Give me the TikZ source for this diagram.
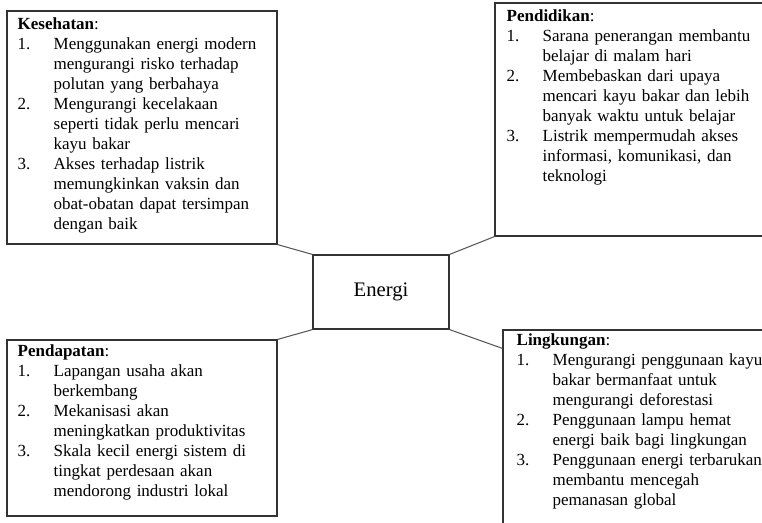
\documentclass[tikz,border=0pt]{standalone}
\usepackage{fontspec}
\setmainfont{Liberation Serif}
\usetikzlibrary{positioning}

% numbered item with hanging indent, lines broken by \newline
\newcommand{\butir}[2]{\par\hangindent=27pt\hangafter=1\noindent\makebox[27pt][l]{#1}#2\par}

\tikzset{
	box/.style={draw=black!80, line width=0.9pt, rectangle, inner sep=0pt},
	hub/.style={box, minimum width=102pt, minimum height=55.5pt, font=\fontsize{15.5pt}{18pt}\selectfont},
	note/.style={inner sep=0pt, text width=200pt, align=left, font=\fontsize{12.75pt}{15pt}\selectfont},
	link/.style={draw=black!65, line width=0.8pt},
}

\begin{document}
\begin{tikzpicture}[x=0.75pt, y=-0.75pt]
	\useasboundingbox (0,0) rectangle (762,522);
	\clip (0,0) rectangle (762,522);
	
	\node (energi) [hub] at (381,292) {Energi};
	
	\node (kes) [box, minimum width=202.5pt, minimum height=174.75pt] at (142,127.5) {};
	\node (pend) [box, minimum width=228.75pt, minimum height=174.75pt] at (647.5,119.5) {};
	\node (pdp) [box, minimum width=202.5pt, minimum height=132pt] at (142,428) {};
	\node (lingk) [box, minimum width=222.75pt, minimum height=172.5pt] at (651.5,445) {};
	
	\node (kestxt) [note, below right=5pt and 8.25pt of kes.north west] {%
		\noindent\textbf{Kesehatan}:
		\butir{1.}{Menggunakan energi modern\newline mengurangi risko terhadap\newline polutan yang berbahaya}
		\butir{2.}{Mengurangi kecelakaan\newline seperti tidak perlu mencari\newline kayu bakar}
		\butir{3.}{Akses terhadap listrik\newline memungkinkan vaksin dan\newline obat-obatan dapat tersimpan\newline dengan baik}};
	
	\node (pendtxt) [note, below right=5pt and 9pt of pend.north west] {%
		\noindent\textbf{Pendidikan}:
		\butir{1.}{Sarana penerangan membantu\newline belajar di malam hari}
		\butir{2.}{Membebaskan dari upaya\newline mencari kayu bakar dan lebih\newline banyak waktu untuk belajar}
		\butir{3.}{Listrik mempermudah akses\newline informasi, komunikasi, dan\newline teknologi}};
	
	\node (pdptxt) [note, below right=4pt and 8.25pt of pdp.north west] {%
		\noindent\textbf{Pendapatan}:
		\butir{1.}{Lapangan usaha akan\newline berkembang}
		\butir{2.}{Mekanisasi akan\newline meningkatkan produktivitas}
		\butir{3.}{Skala kecil energi sistem di\newline tingkat perdesaan akan\newline mendorong industri lokal}};
	
	\node (lingktxt) [note, below right=3pt and 10.5pt of lingk.north west] {%
		\noindent\textbf{Lingkungan}:
		\butir{1.}{Mengurangi penggunaan kayu\newline bakar bermanfaat untuk\newline mengurangi deforestasi}
		\butir{2.}{Penggunaan lampu hemat\newline energi baik bagi lingkungan}
		\butir{3.}{Penggunaan energi terbarukan\newline membantu mencegah\newline pemanasan global}};
	
	\draw [link] (kes.south east) -- (energi.north west);
	\draw [link] (energi.north east) -- (pend.south west);
	\draw [link] (energi.south west) -- (pdp.north east);
	\draw [link] (energi.south east) -- ([yshift=-14.25pt]lingk.north west);
	
\end{tikzpicture}
\end{document}
